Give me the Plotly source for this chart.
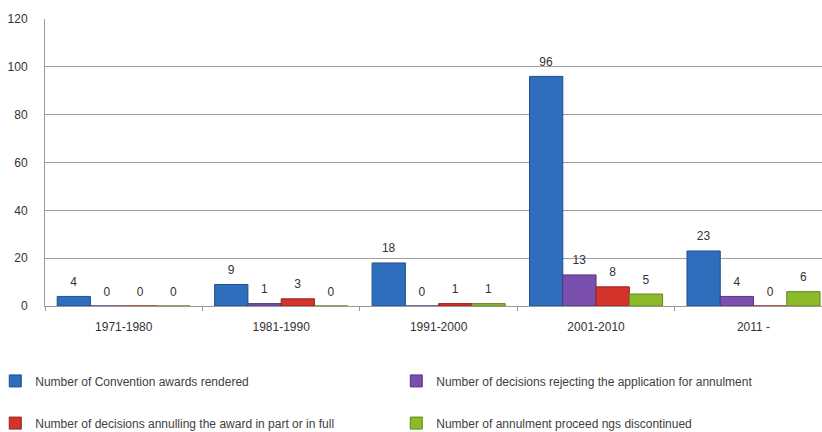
import plotly.graph_objects as go

periods = ["1971-1980", "1981-1990", "1991-2000", "2001-2010", "2011 -"]
awards_rendered = [4, 9, 18, 96, 23]
rejecting = [0, 1, 0, 13, 4]
annulling = [0, 3, 1, 8, 0]
discontinued = [0, 0, 1, 5, 6]

series_names = [
    "Number of Convention awards rendered",
    "Number of decisions rejecting the application for annulment",
    "Number of decisions annulling the award in part or in full",
    "Number of annulment proceed ngs discontinued",
]
series_values = [awards_rendered, rejecting, annulling, discontinued]
fill_colors = ["#2f6dbd", "#7a4fae", "#d2332b", "#8cba2b"]
line_colors = ["#1f4f8f", "#553580", "#9a2019", "#62861a"]
legends = ["legend", "legend", "legend2", "legend2"]

fig = go.Figure()
for name, vals, fc, lc, lg in zip(series_names, series_values, fill_colors, line_colors, legends):
    fig.add_trace(go.Bar(
        x=periods, y=vals, name=name,
        marker=dict(color=fc, line=dict(color=lc, width=1)),
        text=["<span style='font-size:12px'>%d</span><br> " % v for v in vals],
        textposition="outside",
        textfont=dict(size=5, color="#333333", family="Liberation Sans, Arial"),
        cliponaxis=False, legend=lg,
    ))

legend_common = dict(
    orientation="h", xanchor="left", yanchor="middle",
    font=dict(size=12, color="#404040", family="Liberation Sans, Arial"),
    entrywidth=356, entrywidthmode="pixels",
    itemwidth=30, bgcolor="rgba(0,0,0,0)", traceorder="normal",
)

fig.update_layout(
    width=822, height=432,
    margin=dict(l=45, r=0, t=19, b=126, autoexpand=False),
    plot_bgcolor="white", paper_bgcolor="white",
    barmode="group", bargap=0.155, bargroupgap=0,
    font=dict(family="Liberation Sans, Arial", size=12, color="#333333"),
    uniformtext=dict(mode=False),
    legend=dict(x=-0.064, y=-0.261, **legend_common),
    legend2=dict(x=-0.064, y=-0.408, **legend_common),
    xaxis=dict(
        range=[-0.5, 4.435], showline=True, linecolor="#999999", linewidth=1,
        ticks="outside", tickson="boundaries", ticklen=4, tickcolor="#999999",
        tickfont=dict(size=12, color="#333333"), showgrid=False,
        ticklabelstandoff=10, automargin=False,
    ),
    yaxis=dict(
        range=[0, 120], dtick=20, showline=True, linecolor="#999999", linewidth=1,
        showgrid=True, gridcolor="#a0a0a0", gridwidth=1, zeroline=False,
        tickfont=dict(size=12, color="#333333"), ticks="", ticklabelstandoff=14,
        automargin=False,
    ),
)

fig.write_html("out.html")
